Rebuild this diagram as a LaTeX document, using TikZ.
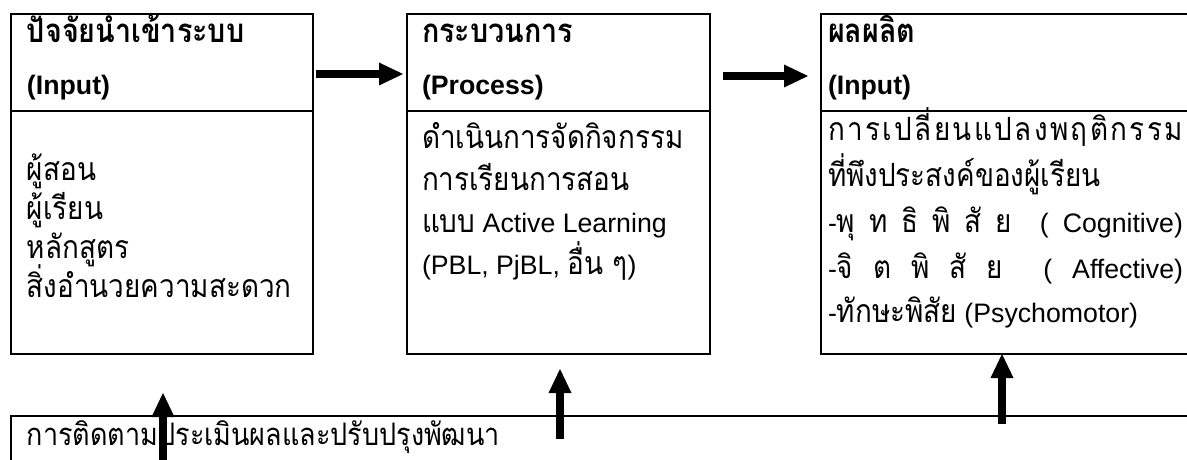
\documentclass[tikz,border=0pt]{standalone}
\usepackage{fontspec}
\setmainfont{Liberation Sans}
\newfontfamily\thf[Script=Thai,FakeStretch=0.87]{Loma}
\usetikzlibrary{arrows.meta}
\newcommand\tb[1]{{\thf\fontsize{32}{32}\selectfont #1}}
\newcommand\tbold[1]{{\thf\bfseries\fontsize{33}{33}\selectfont #1}}
\begin{document}
\begin{tikzpicture}[x=1pt,y=-1pt,
  boxshape/.style={draw,line width=2.6pt,anchor=north west,inner sep=0pt,outer sep=0pt},
  divline/.style={line width=2.6pt},
  txt/.style={anchor=base west,inner sep=0pt,outer sep=0pt},
  ttl/.style={txt,font=\bfseries\fontsize{26.7}{27}\selectfont},
  body/.style={txt,font=\fontsize{26.7}{27}\selectfont},
  bigarrow/.style={line width=7.5pt,-{Triangle[width=23pt,length=24pt,line width=0pt]}}]
\clip (0,0) rectangle (1187,460);
\fill[white] (0,0) rectangle (1187,460);
% boxes
\node[boxshape,minimum width=302pt,minimum height=340pt] (inb) at (11,14) {};
\node[boxshape,minimum width=303pt,minimum height=340pt] (prb) at (407,14) {};
\node[boxshape,minimum width=380pt,minimum height=340pt] (oub) at (821,14) {};
\node[boxshape,minimum width=1200pt,minimum height=100pt] (evb) at (11,416) {};
% dividers
\draw[divline] (inb.west |- 0,111) -- (inb.east |- 0,111);
\draw[divline] (prb.west |- 0,111) -- (prb.east |- 0,111);
\draw[divline] (oub.west |- 0,111) -- (oub.east |- 0,111);
% box 1 text
\node[ttl] (t1a) at (27,43) {\tbold{ปัจจัยนำเข้าระบบ}};
\node[ttl] (t1b) at (27,95) {(Input)};
\node[body] (b1a) at (27,180) {\tb{ผู้สอน}};
\node[body] (b1b) at (27,219) {\tb{ผู้เรียน}};
\node[body] (b1c) at (27,258) {\tb{หลักสูตร}};
\node[body] (b1d) at (27,297) {\tb{สิ่งอำนวยความสะดวก}};
% box 2 text
\node[ttl] (t2a) at (422,43) {\tbold{กระบวนการ}};
\node[ttl] (t2b) at (422,95) {(Process)};
\node[body] (b2a) at (422,148) {\tb{ดำเนินการจัดกิจกรรม}};
\node[body] (b2b) at (422,190) {\tb{การเรียนการสอน}};
\node[body] (b2c) at (422,232) {\tb{แบบ} Active Learning};
\node[body] (b2d) at (422,274) {(PBL, PjBL, \tb{อื่น ๆ})};
% box 3 text
\node[ttl] (t3a) at (828,43) {\tbold{ผลผลิต}};
\node[ttl] (t3b) at (828,95) {(Input)};
\node[body] (b3a) at (828,140) {\hbox to 355pt{\thf\fontsize{32}{32}\selectfont ก\hfil า\hfil ร\hfil เ\hfil ป\hfil ลี่\hfil ย\hfil น\hfil แ\hfil ป\hfil ล\hfil ง\hfil พ\hfil ฤ\hfil ติ\hfil ก\hfil ร\hfil ร\hfil ม}};
\node[body] (b3b) at (828,186) {\tb{ที่พึงประสงค์ของผู้เรียน}};
\node[body] (b3c) at (828,232) {\hbox to 355pt{-\tb{พุ}\hfil\tb{ท}\hfil\tb{ธิ}\hfil\tb{พิ}\hfil\tb{สั}\hfil\tb{ย}\hfil\hfil(\hfil Cognitive)}};
\node[body] (b3d) at (828,278) {\hbox to 355pt{-\tb{จิ}\hfil\tb{ต}\hfil\tb{พิ}\hfil\tb{สั}\hfil\tb{ย}\hfil\hfil(\hfil Affective)}};
\node[body] (b3e) at (828,322) {-\tb{ทักษะพิสัย} (Psychomotor)};
% bottom text
\node[body] (ev) at (27,445) {{\thf\fontsize{31}{31}\selectfont การติดตามประเมินผลและปรับปรุงพัฒนา}};
% horizontal arrows
\draw[bigarrow,shorten <=3pt,shorten >=4pt] (inb.east |- 0,74) -- (prb.west |- 0,74);
\draw[bigarrow,shorten <=13pt,shorten >=13pt] (prb.east |- 0,76) -- (oub.west |- 0,76);
% vertical arrows
\coordinate (v1s) at (163,470);
\coordinate (v1e) at (163,393);
\coordinate (v2s) at (560,439);
\coordinate (v2e) at (560,369);
\coordinate (v3s) at (1002,424);
\draw[bigarrow] (v1s) -- (v1e);
\draw[bigarrow] (v2s) -- (v2e);
\draw[bigarrow] (v3s) -- (v3s |- oub.south);
\end{tikzpicture}
\end{document}
